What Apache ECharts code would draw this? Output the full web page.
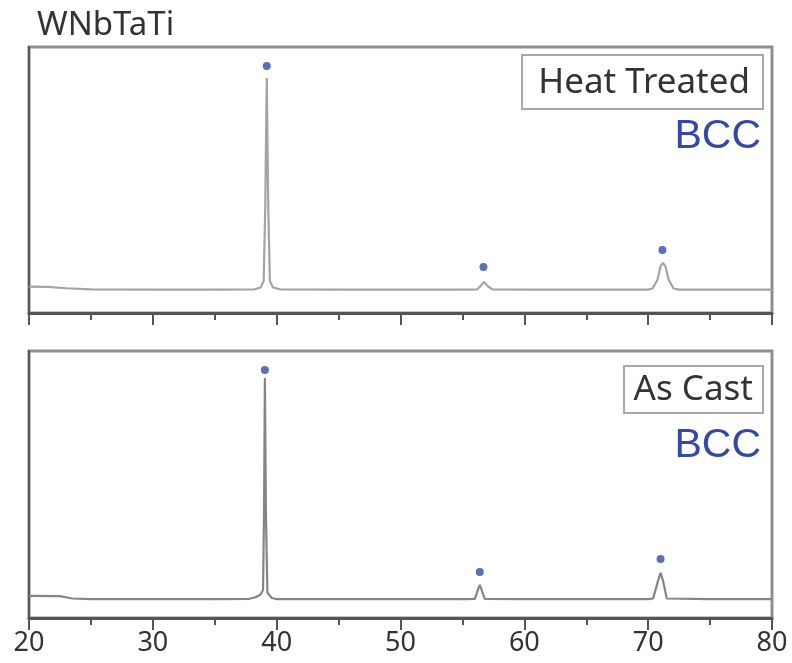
<!DOCTYPE html>
<html><head><meta charset="utf-8">
<script src="https://cdn.jsdelivr.net/npm/echarts@6/dist/echarts.min.js"></script>
<style>html,body{margin:0;padding:0;background:#fff}#c{width:792px;height:663px}</style>
</head><body><div id="c"></div>
<script>
const chartTitle = 'WNbTaTi';
const xTicks = [20, 30, 40, 50, 60, 70, 80];
const panelLabels = ['Heat Treated', 'As Cast'];
const phaseLabel = 'BCC';

// [2theta, intensity (0-100 scale)]
const heatTreated = [[20,9.9],[21.5,9.8],[23,9.3],[25,8.9],[30,8.8],[35,8.8],[38.2,8.9],[38.7,9.6],[38.95,12],[39.08,40],[39.2,88.3],[39.32,40],[39.45,12],[39.7,9.6],[40.3,8.9],[45,8.8],[50,8.8],[55,8.8],[56.2,8.9],[56.5,10.3],[56.75,11.7],[57.0,10.3],[57.4,8.9],[60,8.8],[65,8.8],[70,8.8],[70.35,9.2],[70.75,12.5],[71.0,17.5],[71.2,18.8],[71.4,17.5],[71.65,12.5],[72.05,9.2],[72.5,8.8],[75,8.8],[80,8.8]];
const heatPeaks = [[39.2,92.9],[56.7,17.3],[71.15,23.7]];

const asCast = [[20,8.3],[22.5,8.2],[23.5,7.3],[25,7.1],[30,7.1],[35,7.1],[37.8,7.2],[38.3,7.8],[38.7,8.8],[38.9,10.5],[38.98,40],[39.05,89.9],[39.13,40],[39.25,9.5],[39.6,7.5],[40,7.1],[45,7.1],[50,7.1],[55,7.1],[56.0,7.2],[56.25,10.5],[56.4,12.4],[56.55,10.5],[56.8,7.2],[60,7.1],[65,7.1],[70,7.1],[70.4,7.3],[70.8,14],[71.0,16.9],[71.2,14],[71.5,7.3],[75,7.1],[80,7.1]];
const asCastPeaks = [[39.05,92.9],[56.4,17.2],[71.0,22.1]];

const FONT = '"Noto Sans", "Liberation Sans", sans-serif';
const ARIAL = '"Liberation Sans", Arial, sans-serif';
const NARROW = '"Liberation Sans Narrow", "Noto Sans", sans-serif';
const BLUE = '#3548a8';

function xAxisFor(gi, showLabels) {
  return {
    type: 'value', gridIndex: gi, min: xTicks[0], max: xTicks[xTicks.length - 1], interval: 10,
    axisLine: { show: true, onZero: false, lineStyle: { color: '#555', width: 3 } },
    axisTick: { show: true, inside: false, length: 12, lineStyle: { color: '#555', width: 2 } },
    minorTick: { show: true, splitNumber: 2, length: 7, lineStyle: { color: '#555', width: 2 } },
    splitLine: { show: false },
    axisLabel: { show: showLabels, color: '#333', fontSize: 27, fontFamily: NARROW, margin: 12,
      formatter: v => xTicks.includes(v) ? String(v) : '' }
  };
}
function yAxisFor(gi) {
  return {
    type: 'value', gridIndex: gi, min: 0, max: 100,
    axisLine: { show: true, lineStyle: { color: '#555', width: 2 } },
    axisTick: { show: false }, axisLabel: { show: false }, splitLine: { show: false }
  };
}
function legendBox(label, x1, y1, x2, y2, tx, ty, by) {
  return [
    { type: 'rect', shape: { x: x1, y: y1, width: x2 - x1, height: y2 - y1 },
      style: { fill: '#fff', stroke: '#a8a8a8', lineWidth: 2 }, z: 100 },
    { type: 'text', x: tx, y: ty, style: { text: label, fill: '#333', fontSize: 35, fontFamily: FONT,
      align: 'right', verticalAlign: 'middle' }, z: 101 },
    { type: 'text', x: 761, y: by, style: { text: phaseLabel, fill: BLUE, fontSize: 41, fontFamily: ARIAL,
      align: 'right', verticalAlign: 'middle' }, z: 101 }
  ];
}

const chart = echarts.init(document.getElementById('c'), null, { renderer: 'canvas' });
chart.setOption({
  animation: false,
  backgroundColor: '#fff',
  title: { text: chartTitle, left: 32, top: 4,
    textStyle: { fontSize: 33, fontWeight: 'normal', color: '#333', fontFamily: FONT } },
  grid: [
    { left: 29, top: 47, width: 743, height: 266, show: true, borderColor: '#8e8e8e', borderWidth: 3, backgroundColor: 'transparent' },
    { left: 29, top: 351, width: 743, height: 267, show: true, borderColor: '#8e8e8e', borderWidth: 3, backgroundColor: 'transparent' }
  ],
  xAxis: [xAxisFor(0, false), xAxisFor(1, true)],
  yAxis: [yAxisFor(0), yAxisFor(1)],
  series: [
    { type: 'line', xAxisIndex: 0, yAxisIndex: 0, data: heatTreated, showSymbol: false, symbol: 'none',
      lineStyle: { color: '#a4a4a4', width: 2.2 } },
    { type: 'scatter', xAxisIndex: 0, yAxisIndex: 0, data: heatPeaks, symbol: 'circle', symbolSize: 8,
      itemStyle: { color: BLUE } },
    { type: 'line', xAxisIndex: 1, yAxisIndex: 1, data: asCast, showSymbol: false, symbol: 'none',
      lineStyle: { color: '#858585', width: 2.2 } },
    { type: 'scatter', xAxisIndex: 1, yAxisIndex: 1, data: asCastPeaks, symbol: 'circle', symbolSize: 8,
      itemStyle: { color: BLUE } }
  ],
  graphic: [
    ...legendBox(panelLabels[0], 522, 55, 763, 109, 750, 83, 137),
    ...legendBox(panelLabels[1], 624, 366, 763, 413, 753, 390, 446)
  ]
});
</script></body></html>
